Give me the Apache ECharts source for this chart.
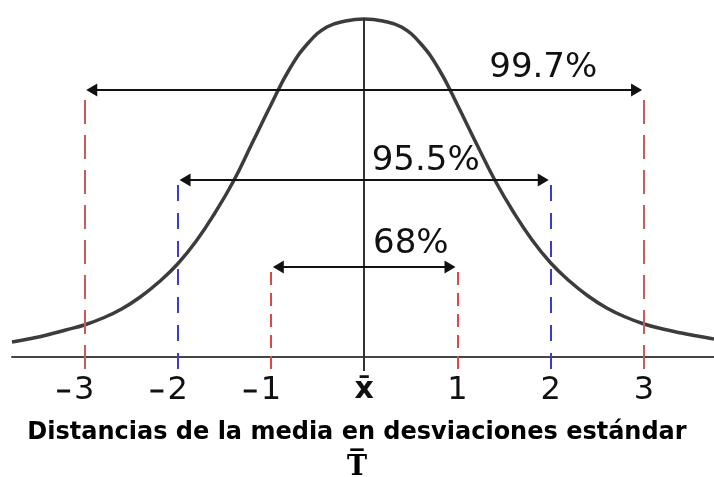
<!DOCTYPE html>
<html>
<head>
<meta charset="utf-8">
<script src="https://cdn.jsdelivr.net/npm/echarts@6/dist/echarts.min.js"></script>
<style>html,body{margin:0;padding:0;background:#fff}#c{width:714px;height:477px}</style>
</head>
<body>
<div id="c"></div>
<script>
// ---- data ----
const xTicks = [-3, -2, -1, 0, 1, 2, 3];
const tickLabels = ['−3', '−2', '−1', 'x̄', '1', '2', '3'];
const curveX = [-3.775, -3.6, -3.4, -3.2, -3.0, -2.8, -2.6, -2.4, -2.2, -2.0, -1.8, -1.6, -1.4, -1.2, -1.0, -0.8, -0.6, -0.4, -0.2, 0,
                0.2, 0.4, 0.6, 0.8, 1.0, 1.2, 1.4, 1.6, 1.8, 2.0, 2.2, 2.4, 2.6, 2.8, 3.0, 3.2, 3.4, 3.6, 3.75];
const curveY = [15, 18, 22, 27, 32, 39, 48, 60, 75, 93, 116, 144, 176, 214, 252, 288, 314, 330, 336, 338,
                336, 330, 314, 288, 252, 214, 177, 145, 117, 94, 76, 61, 49, 40, 33, 28, 24, 20.5, 18];
const intervalSigma = [1, 2, 3];
const intervalLabels = ['68%', '95.5%', '99.7%'];
const arrowLevels = [90, 177, 267];
const labelX = [0.50, 0.66, 1.92];
const labelY = [113, 196, 289];
const guideBottom = -12;
const centerTop = 339;
const xTitle = 'Distancias de la media en desviaciones estándar';
const subTitle = 'T̅';

// ---- styles ----
const guideColors = {1: '#e04646', 2: '#3b3bd2', 3: '#c85c5c'};
const guideDash = {1: [13, 8], 2: [16, 12], 3: [24, 11]};
const arrowInset = 0.08; // keeps the arrow tips just inside the guide lines

const curveData = curveX.map((x, i) => [x, curveY[i]]);

const guideLines = [];
intervalSigma.forEach((s, i) => {
  [-s, s].forEach(u => {
    guideLines.push([
      {coord: [u, guideBottom], lineStyle: {color: guideColors[s], width: 2, type: guideDash[s]}},
      {coord: [u, arrowLevels[i]]}
    ]);
  });
});
const arrowLines = intervalSigma.map((s, i) => [
  {coord: [-s + arrowInset, arrowLevels[i]]}, {coord: [s - arrowInset, arrowLevels[i]]}
]);

const labelData = intervalLabels.map((t, i) => ({name: t, value: [labelX[i], labelY[i]]}));

const chart = echarts.init(document.getElementById('c'), null, {renderer: 'canvas'});
chart.setOption({
  animation: false,
  backgroundColor: '#fff',
  title: [
    {text: xTitle, left: 'center', top: 416,
     textStyle: {fontFamily: 'DejaVu Sans', fontWeight: 'bold', fontSize: 24, color: '#000'}},
    {text: subTitle, left: 'center', top: 449,
     textStyle: {fontFamily: 'DejaVu Serif', fontWeight: 'bold', fontSize: 27, color: '#000'}}
  ],
  grid: {left: 12, right: 0, top: 17, bottom: 100},
  xAxis: {
    type: 'value', min: -3.775, max: 3.75,
    splitLine: {show: false},
    axisTick: {show: false},
    axisLine: {show: true, onZero: true, lineStyle: {color: '#444', width: 2}},
    axisLabel: {
      customValues: xTicks,
      margin: -2,
      color: '#111',
      fontFamily: 'DejaVu Sans',
      fontSize: 32,
      formatter: function (v) {
        const t = tickLabels[xTicks.indexOf(Math.round(v))] || '';
        if (t.charAt(0) === '−') return '{m|}{g|}{n|' + t.slice(1) + '}{s|}';
        if (t === 'x̄') return '{x|' + t + '}';
        return '{n|' + t + '}';
      },
      rich: {
        m: {width: 13, height: 3, backgroundColor: '#111'},
        g: {width: 4},
        n: {fontFamily: 'DejaVu Sans', fontSize: 32, color: '#111'},
        s: {width: 17},
        x: {fontFamily: 'DejaVu Sans', fontSize: 30, fontWeight: 'bold', color: '#111'}
      }
    }
  },
  yAxis: {type: 'value', min: -20, max: 340, show: false},
  series: [
    {
      type: 'line', data: [], silent: true,
      markLine: {silent: true, symbol: ['none', 'none'], label: {show: false},
        animation: false, data: guideLines}
    },
    {
      type: 'line', data: [], silent: true,
      markLine: {silent: true, symbol: ['none', 'none'], label: {show: false},
        lineStyle: {color: '#333', width: 2, type: 'solid'},
        data: [[{coord: [0, guideBottom - 2]}, {coord: [0, centerTop]}]]}
    },
    {
      type: 'line', data: curveData, smooth: 0.45, showSymbol: false, silent: true,
      lineStyle: {color: '#3c3c3c', width: 3.5}, z: 3
    },
    {
      type: 'line', data: [], silent: true, z: 4,
      markLine: {silent: true, symbol: ['triangle', 'triangle'], symbolSize: [13, 11],
        label: {show: false},
        lineStyle: {color: '#111', width: 2, type: 'solid'},
        data: arrowLines}
    },
    {
      type: 'scatter', data: labelData, symbolSize: 0, silent: true, z: 5,
      itemStyle: {opacity: 1},
      label: {show: true, position: [0, 0], align: 'center', verticalAlign: 'middle',
        formatter: '{b}', textBorderWidth: 0,
        fontFamily: 'DejaVu Sans', fontSize: 34, color: '#111'}
    }
  ]
});
</script>
</body>
</html>
